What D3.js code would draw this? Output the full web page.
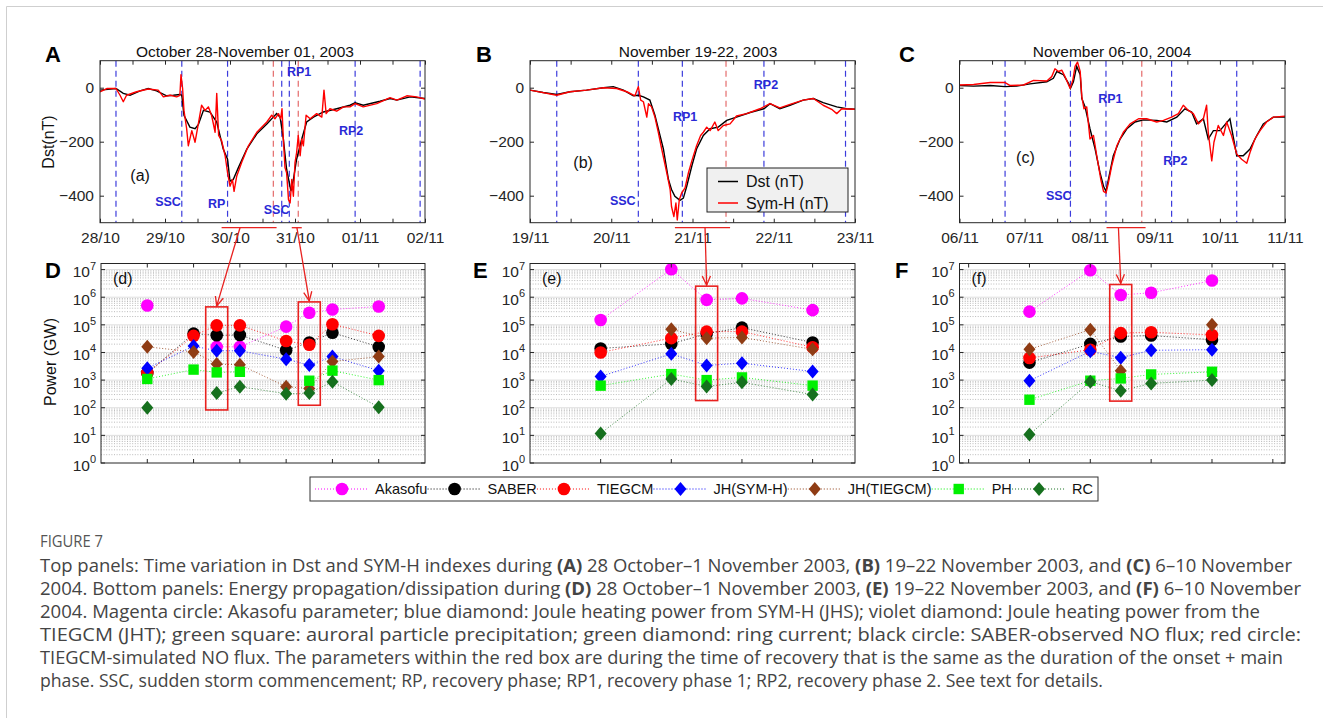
<!DOCTYPE html>
<html>
<head>
<meta charset="utf-8">
<script src="https://cdn.jsdelivr.net/npm/d3@7"></script>
<style>
  body { margin: 0; background: #fff; }
  svg { display: block; }
</style>
</head>
<body>
<svg id="fig" width="1329" height="718"></svg>
<script>
// ---------------------------------------------------------------
// Storm-time Dst / SYM-H series: [hours since first day 00 UT, nT]
// ---------------------------------------------------------------
const dstA = [[0,-9],[5.9,-3],[8.6,-21],[11.1,-28],[14.8,-12],[17.8,-3],[20.9,-12],[24.6,-30],[27.1,-28],[29.5,-25],[30.2,-28],[31.0,-102],[33.2,-146],[35.1,-152],[36.3,-137],[38.2,-84],[40.6,-90],[43.1,-127],[45.5,-227],[47.1,-265],[48.0,-346],[49.2,-340],[51.1,-296],[54.2,-227],[57.9,-171],[61.6,-134],[64.0,-109],[65.2,-96],[66.5,-109],[67.7,-190],[68.9,-302],[70.5,-383],[71.4,-340],[72.6,-265],[74.5,-190],[76.3,-127],[78.8,-109],[82.5,-90],[87.4,-78],[92.3,-65],[94.2,-56],[97.2,-65],[103.4,-50],[107.1,-40],[109.6,-46],[114.5,-34],[120,-40]];
const symA = [[0,-15],[2.5,-3],[5.9,-3],[7.4,-28],[8.6,-52],[9.8,-28],[13.5,-15],[17.8,-5],[21.5,-9],[23.4,-34],[25.9,-28],[28.3,-34],[29.5,-28],[29.9,48],[30.5,-3],[31.0,-84],[32.0,-152],[32.6,-215],[33.9,-159],[35.1,-202],[36.3,-134],[37.5,-65],[38.8,-84],[40.0,-71],[41.2,-102],[42.5,-165],[43.1,-21],[43.8,-177],[44.9,-196],[46.2,-252],[47.1,-315],[48.0,-365],[48.9,-340],[49.5,-384],[50.5,-327],[52.3,-277],[54.8,-215],[57.9,-165],[61.6,-127],[63.4,-102],[64.6,-115],[65.9,-96],[66.7,-115],[67.2,-78],[67.7,-190],[68.3,-296],[68.9,-315],[69.6,-415],[70.2,-427],[70.8,-340],[71.4,-402],[72.0,-277],[72.6,-240],[73.2,-177],[73.9,-252],[74.5,-190],[75.1,-215],[76.1,-102],[77.6,-115],[80.0,-96],[81.9,-109],[82.7,-9],[83.5,-96],[84.9,-78],[87.4,-87],[89.9,-71],[92.3,-71],[94.2,-59],[97.2,-71],[102.2,-59],[107.1,-37],[109.6,-46],[113.3,-30],[116.9,-34],[120,-42]];

const dstB = [[0,-9],[3.9,-18],[7.9,-25],[11.8,-15],[16.7,-9],[21.7,0],[24.6,4],[27.6,-9],[30.5,-30],[32.0,-28],[33.5,-34],[35.4,-46],[36.9,-102],[37.9,-152],[39.4,-227],[40.9,-340],[41.8,-377],[42.8,-402],[44.3,-417],[45.3,-409],[46.3,-365],[47.8,-290],[49.2,-227],[51.2,-177],[53.2,-152],[55.6,-146],[58.1,-121],[61.0,-109],[65.0,-92],[69.1,-78],[70.9,-59],[73.8,-78],[76.8,-65],[80.7,-46],[83.7,-40],[86.6,-55],[90.6,-71],[93.5,-78],[96,-80]];
const symB = [[0,-9],[7.9,-28],[11.8,-15],[16.7,-9],[21.7,0],[25.6,-3],[28.6,-15],[31.0,-30],[32.0,4],[32.7,-46],[33.5,-52],[34.5,-109],[35.0,-59],[35.9,-71],[36.9,-109],[37.9,-165],[38.9,-227],[40.4,-315],[41.4,-377],[41.8,-440],[42.5,-477],[43.1,-427],[43.5,-490],[44.1,-415],[44.8,-390],[45.8,-371],[46.8,-315],[47.8,-271],[49.2,-215],[50.4,-177],[51.2,-165],[52.2,-146],[53.2,-159],[54.6,-127],[55.6,-159],[57.1,-140],[59.1,-134],[61.0,-105],[64.0,-96],[67.9,-78],[70.9,-59],[73.8,-75],[76.8,-62],[80.7,-46],[83.7,-40],[86.6,-65],[89.1,-80],[90.6,-96],[92.1,-78],[96,-80]];

const dstC = [[0,8],[5.2,6],[11.3,8],[16.8,4],[21.1,6],[26.0,14],[32.2,22],[34.6,35],[35.9,60],[38.3,48],[40.2,16],[40.9,-3],[42.0,22],[43.2,79],[44.5,48],[45.1,-40],[46.3,-71],[48.1,-152],[50.0,-227],[51.8,-315],[53.1,-365],[54.0,-384],[54.9,-340],[56.7,-252],[59.2,-190],[61.7,-152],[64.7,-127],[67.8,-119],[72.7,-121],[76.4,-127],[80.1,-109],[83.1,-78],[85.6,-90],[87.4,-134],[89.9,-115],[91.7,-190],[93.6,-159],[96.0,-159],[99.7,-115],[102.2,-252],[104.6,-252],[107.1,-227],[109.6,-177],[112.0,-134],[115.7,-109],[120,-109]];
const symC = [[0,10],[5.2,12],[11.3,19],[16.8,19],[18.7,8],[23.6,10],[27.3,27],[32.2,25],[34.0,41],[35.2,70],[36.5,60],[37.7,65],[38.9,41],[40.8,-3],[41.8,29],[42.6,79],[43.5,95],[44.5,60],[45.1,-34],[45.9,-78],[46.9,-71],[48.1,-190],[49.4,-177],[50.6,-252],[52.1,-340],[53.1,-384],[54.0,-390],[54.9,-352],[56.1,-290],[58.0,-215],[60.4,-165],[62.9,-134],[66.0,-115],[69.0,-115],[72.7,-127],[75.2,-121],[78.2,-109],[80.7,-96],[82.5,-65],[84.4,-84],[86.2,-96],[88.1,-134],[89.9,-115],[91.1,-65],[91.7,-165],[93.0,-271],[93.8,-202],[95.4,-140],[97.3,-177],[98.5,-127],[100.3,-177],[102.2,-246],[104.0,-265],[105.9,-280],[107.1,-240],[108.9,-190],[110.8,-159],[113.2,-127],[115.7,-109],[120,-106]];

// Phase markers (hours): blue = SSC / RP boundaries, red = end of recovery window
const blueA = [5.9, 30.2, 47.1, 67.1, 69.9, 94.2, 118.2];
const redA  = [64.0, 73.2];
const blueB = [7.9, 32.0, 45.0, 69.1, 93.2];
const redB  = [57.9];
const blueC = [16.8, 40.9, 54.0, 78.2, 102.2];
const redC  = [67.2];

// Day tick labels
const daysA = ['28/10','29/10','30/10','31/10','01/11','02/11'];
const daysB = ['19/11','20/11','21/11','22/11','23/11'];
const daysC = ['06/11','07/11','08/11','09/11','10/11','11/11'];

// ---------------------------------------------------------------
// Energy budget (GW) per storm stage; null = not available
// ---------------------------------------------------------------
const stagesD = [1, 2, 2.5, 3, 4, 4.5, 5, 6];
const akasofuD = [5.0e5, null, 1.6e4, 1.6e4, 8.6e4, 2.75e5, 3.6e5, 4.6e5];
const saberD   = [1.8e3, 4.8e4, 4.2e4, 4.3e4, 1.2e4, 2.3e4, 5.2e4, 1.6e4];
const tiegcmD  = [1.8e3, 4.0e4, 9.6e4, 9.6e4, 2.6e4, 1.9e4, 1.05e5, 4.0e4];
const jhSymD   = [2.7e3, 1.7e4, 1.15e4, 1.15e4, 5.7e3, 3.5e3, 7.1e3, 2.2e3];
const jhTieD   = [1.6e4, 1.05e4, 3.8e3, 3.6e3, 580, 500, 4.7e3, 7.1e3];
const phD      = [1.1e3, 2.4e3, 1.9e3, 2.0e3, null, 950, 2.2e3, 1.0e3];
const rcD      = [100, null, 340, 580, 320, 340, 870, 105];

const stagesE = [1, 2, 2.5, 3, 4];
const akasofuE = [1.5e5, 1.03e7, 8.0e5, 9.1e5, 3.4e5];
const saberE   = [1.4e4, 2.05e4, 4.8e4, 7.9e4, 2.3e4];
const tiegcmE  = [1.0e4, 3.3e4, 5.7e4, 5.7e4, 1.55e4];
const jhSymE   = [1.36e3, 8.9e3, 3.4e3, 4.1e3, 2.05e3];
const jhTieE   = [null, 6.9e4, 3.3e4, 3.5e4, 1.3e4];
const phE      = [630, 1.65e3, 1.0e3, 1.25e3, 630];
const rcE      = [11.7, 1.1e3, 590, 830, 300];

const stagesF = [1, 2, 2.5, 3, 4];
const akasofuF = [3.0e5, 9.5e6, 1.2e6, 1.45e6, 4.0e6];
const saberF   = [4.3e3, 2.05e4, 3.8e4, 4.1e4, 2.9e4];
const tiegcmF  = [6.3e3, 1.26e4, 5.0e4, 5.4e4, 4.3e4];
const jhSymF   = [950, 1.1e4, 6.5e3, 1.2e4, 1.26e4];
const jhTieF   = [1.3e4, 6.7e4, 2.2e3, null, 1.0e5];
const phF      = [195, 950, 1.15e3, 1.6e3, 2.0e3];
const rcF      = [10.7, 880, 410, 760, 1.0e3];

const seriesNames = ['Akasofu', 'SABER', 'TIEGCM', 'JH(SYM-H)', 'JH(TIEGCM)', 'PH', 'RC'];
const decadeTicks = [0, 1, 2, 3, 4, 5, 6, 7];

// ---------------------------------------------------------------
// Styling
// ---------------------------------------------------------------
const FONT = '"Liberation Sans", Arial, Helvetica, sans-serif';
const AX = '#262626';
const seriesStyle = [
  { color: '#ff00ff', shape: 'circle' },
  { color: '#000000', shape: 'circle' },
  { color: '#ff0000', shape: 'circle' },
  { color: '#0000ff', shape: 'diamond' },
  { color: '#8f3c14', shape: 'diamond' },
  { color: '#00f000', shape: 'square' },
  { color: '#16701e', shape: 'diamond' }
];

const svg = d3.select('#fig');
svg.append('rect').attr('width', 1329).attr('height', 718).attr('fill', '#fff');

// outer figure frame
svg.append('path').attr('d', 'M6.5,718 V6.5 H1323')
  .attr('fill', 'none').attr('stroke', '#cfcfcf').attr('stroke-width', 1);

const TOP_Y0 = 60.7, TOP_Y1 = 222.7;
const BOT_Y0 = 263.5, BOT_Y1 = 463;

function marker(sel, shape, color) {
  if (shape === 'circle') {
    sel.append('circle').attr('r', 6.3).attr('fill', color);
  } else if (shape === 'square') {
    sel.append('rect').attr('x', -5.2).attr('y', -5.2).attr('width', 10.4).attr('height', 10.4).attr('fill', color);
  } else {
    sel.append('path').attr('d', 'M0,-7 L6,0 L0,7 L-6,0 Z').attr('fill', color);
  }
}

// ---------------------------------------------------------------
// Top row: Dst and SYM-H
// ---------------------------------------------------------------
const topPanels = [
  { key: 'a', letter: 'A', letterX: 45, title: 'October 28-November 01, 2003', titleX: 245,
    x0: 100, x1: 425, days: daysA, dst: dstA, sym: symA, blue: blueA, red: redA,
    tag: [14.8, -325],
    notes: [['SSC', 25.1, -423], ['RP', 43.1, -431], ['SSC', 65.2, -450], ['RP1', 73.5, 61], ['RP2', 92.7, -158]] },
  { key: 'b', letter: 'B', letterX: 476, title: 'November 19-22, 2003', titleX: 698,
    x0: 530, x1: 855, days: daysB, dst: dstB, sym: symB, blue: blueB, red: redB,
    tag: [15.7, -276], legend: true,
    notes: [['SSC', 27.4, -419], ['RP1', 45.8, -108], ['RP2', 69.7, 10]] },
  { key: 'c', letter: 'C', letterX: 899, title: 'November 06-10, 2004', titleX: 1112,
    x0: 959.5, x1: 1285, days: daysC, dst: dstC, sym: symC, blue: blueC, red: redC,
    tag: [24.3, -257],
    notes: [['SSC', 36.6, -400], ['RP1', 55.6, -40], ['RP2', 79.6, -270]] }
];

const topScales = {};

topPanels.forEach(p => {
  const nHours = (p.days.length - 1) * 24;
  const x = d3.scaleLinear().domain([0, nHours]).range([p.x0, p.x1]);
  const y = d3.scaleLinear().domain([-500, 100]).range([TOP_Y1, TOP_Y0]);
  topScales[p.key] = x;
  const g = svg.append('g');

  const clipId = 'clip-' + p.key;
  svg.append('clipPath').attr('id', clipId).append('rect')
    .attr('x', p.x0).attr('y', TOP_Y0).attr('width', p.x1 - p.x0).attr('height', TOP_Y1 - TOP_Y0);

  const inner = g.append('g').attr('clip-path', `url(#${clipId})`);

  // phase boundaries
  inner.selectAll('line.blue').data(p.blue).join('line')
    .attr('x1', d => x(d)).attr('x2', d => x(d)).attr('y1', TOP_Y0).attr('y2', TOP_Y1)
    .attr('stroke', '#3c3cdc').attr('stroke-width', 1.2).attr('stroke-dasharray', '6,4');
  inner.selectAll('line.red').data(p.red).join('line')
    .attr('x1', d => x(d)).attr('x2', d => x(d)).attr('y1', TOP_Y0).attr('y2', TOP_Y1)
    .attr('stroke', '#e46a6a').attr('stroke-width', 1.2).attr('stroke-dasharray', '6,4');

  const line = d3.line().x(d => x(d[0])).y(d => y(d[1]));
  inner.append('path').datum(p.dst).attr('d', line)
    .attr('fill', 'none').attr('stroke', '#000').attr('stroke-width', 1.4);
  inner.append('path').datum(p.sym).attr('d', line)
    .attr('fill', 'none').attr('stroke', '#ff0000').attr('stroke-width', 1.4).attr('stroke-linejoin', 'round');

  // axes
  const ticks12 = d3.range(0, nHours + 1, 12);
  const xAxis = d3.axisBottom(x).tickValues(ticks12)
    .tickFormat(h => h % 24 === 0 ? p.days[h / 24] : '')
    .tickSizeInner(-4).tickSizeOuter(0).tickPadding(9);
  const gx = g.append('g').attr('transform', `translate(0,${TOP_Y1})`).call(xAxis);
  const gxTop = g.append('g').attr('transform', `translate(0,${TOP_Y0})`)
    .call(d3.axisTop(x).tickValues(ticks12).tickFormat('').tickSizeInner(-4).tickSizeOuter(0));
  const yAxis = d3.axisLeft(y).tickValues([-400, -200, 0]).tickSizeInner(-4).tickSizeOuter(0).tickPadding(6);
  const gy = g.append('g').attr('transform', `translate(${p.x0},0)`).call(yAxis);
  const gyR = g.append('g').attr('transform', `translate(${p.x1},0)`)
    .call(d3.axisRight(y).tickValues([-400, -200, 0]).tickFormat('').tickSizeInner(-4).tickSizeOuter(0));
  [gx, gxTop, gy, gyR].forEach(a => {
    a.select('.domain').remove();
    a.selectAll('line').attr('stroke', AX);
    a.selectAll('text').attr('fill', AX).style('font-family', FONT).style('font-size', '15.5px');
  });
  g.append('rect').attr('x', p.x0).attr('y', TOP_Y0).attr('width', p.x1 - p.x0).attr('height', TOP_Y1 - TOP_Y0)
    .attr('fill', 'none').attr('stroke', AX).attr('stroke-width', 1);

  // titles and annotations
  g.append('text').attr('x', p.titleX).attr('y', 57).attr('text-anchor', 'middle')
    .style('font-family', FONT).style('font-size', '15.5px').attr('fill', '#111').text(p.title);
  g.append('text').attr('x', p.letterX).attr('y', 62)
    .style('font-family', FONT).style('font-size', '22px').style('font-weight', 'bold').attr('fill', '#000').text(p.letter);
  g.append('text').attr('x', x(p.tag[0])).attr('y', y(p.tag[1])).attr('dy', '0.35em').attr('text-anchor', 'middle')
    .style('font-family', FONT).style('font-size', '16px').attr('fill', '#111').text('(' + p.key + ')');
  p.notes.forEach(n => {
    g.append('text').attr('x', x(n[1])).attr('y', y(n[2])).attr('dy', '0.35em').attr('text-anchor', 'middle')
      .style('font-family', FONT).style('font-size', '12.5px').style('font-weight', 'bold')
      .attr('fill', '#2a2ad6').text(n[0]);
  });

  if (p.legend) {
    const lw = 141, lh = 44;
    const lx = p.x1 - 7 - lw, ly = 168;
    const lg = g.append('g');
    lg.append('rect').attr('x', lx).attr('y', ly).attr('width', lw).attr('height', lh)
      .attr('fill', '#f0f0f0').attr('stroke', '#222').attr('stroke-width', 1);
    [['Dst (nT)', '#000'], ['Sym-H (nT)', '#ff0000']].forEach((it, i) => {
      const yy = ly + 13.5 + i * 21.5;
      lg.append('line').attr('x1', lx + 11).attr('x2', lx + 31).attr('y1', yy).attr('y2', yy)
        .attr('stroke', it[1]).attr('stroke-width', 1.5);
      lg.append('text').attr('x', lx + 39).attr('y', yy).attr('dy', '0.35em')
        .style('font-family', FONT).style('font-size', '16px').attr('fill', '#111').text(it[0]);
    });
  }
});

// y label of the top row
svg.append('text').attr('transform', 'translate(54,142) rotate(-90)').attr('text-anchor', 'middle')
  .style('font-family', FONT).style('font-size', '16px').attr('fill', '#111').text('Dst(nT)');

// ---------------------------------------------------------------
// Bottom row: energy propagation / dissipation
// ---------------------------------------------------------------
const botPanels = [
  { key: 'd', letter: 'D', letterX: 45, x0: 101, x1: 425, xDomain: [0, 7], xTicks: [1, 2, 3, 4, 5, 6],
    stages: stagesD, values: [akasofuD, saberD, tiegcmD, jhSymD, jhTieD, phD, rcD],
    boxes: [[2.5, 1.92, 5.65], [4.5, 2.09, 5.83]] },
  { key: 'e', letter: 'E', letterX: 473, x0: 530, x1: 855, xDomain: [0, 4.6], xTicks: [1, 2, 3, 4],
    stages: stagesE, values: [akasofuE, saberE, tiegcmE, jhSymE, jhTieE, phE, rcE],
    boxes: [[2.5, 2.26, 6.40]] },
  { key: 'f', letter: 'F', letterX: 895, x0: 959.5, x1: 1285, xDomain: [-0.15, 5.2], xTicks: [0, 1, 2, 3, 4, 5],
    stages: stagesF, values: [akasofuF, saberF, tiegcmF, jhSymF, jhTieF, phF, rcF],
    boxes: [[2.5, 2.24, 6.46]] }
];

const botY = d3.scaleLog().domain([1, Math.pow(10, 7.22)]).range([BOT_Y1, BOT_Y0]);
const botScales = {};

botPanels.forEach(p => {
  const x = d3.scaleLinear().domain(p.xDomain).range([p.x0, p.x1]);
  botScales[p.key] = x;
  const y = botY;
  const g = svg.append('g');

  // log grid: dotted minor lines, light major lines
  const top = y.domain()[1];
  decadeTicks.forEach(k => {
    for (let m = 2; m <= 9; m++) {
      const v = m * Math.pow(10, k);
      if (v >= top) continue;
      g.append('line').attr('x1', p.x0).attr('x2', p.x1).attr('y1', y(v)).attr('y2', y(v))
        .attr('stroke', '#a9a9a9').attr('stroke-width', 0.8).attr('stroke-dasharray', '1,1.6');
    }
    if (k > 0) {
      g.append('line').attr('x1', p.x0).attr('x2', p.x1).attr('y1', y(Math.pow(10, k))).attr('y2', y(Math.pow(10, k)))
        .attr('stroke', '#d6d6d6').attr('stroke-width', 0.8);
    }
  });

  // dotted connectors then markers, in legend order
  p.values.forEach((vals, si) => {
    const st = seriesStyle[si];
    const pts = p.stages.map((s, i) => [s, vals[i]]);
    const line = d3.line().defined(d => d[1] != null).x(d => x(d[0])).y(d => y(d[1]));
    g.append('path').datum(pts).attr('d', line).attr('fill', 'none')
      .attr('stroke', st.color).attr('stroke-width', 1).attr('stroke-dasharray', '1,2').attr('opacity', 0.8);
  });
  p.values.forEach((vals, si) => {
    const st = seriesStyle[si];
    p.stages.forEach((s, i) => {
      if (vals[i] == null) return;
      const mg = g.append('g').attr('transform', `translate(${x(s)},${y(vals[i])})`);
      marker(mg, st.shape, st.color);
    });
  });

  // recovery-window boxes
  p.boxes.forEach(b => {
    const cx = x(b[0]);
    g.append('rect').attr('x', cx - 11).attr('y', y(Math.pow(10, b[2])))
      .attr('width', 22).attr('height', y(Math.pow(10, b[1])) - y(Math.pow(10, b[2])))
      .attr('fill', 'none').attr('stroke', '#e8211f').attr('stroke-width', 1.6);
  });

  // frame and ticks
  g.append('rect').attr('x', p.x0).attr('y', BOT_Y0).attr('width', p.x1 - p.x0).attr('height', BOT_Y1 - BOT_Y0)
    .attr('fill', 'none').attr('stroke', AX).attr('stroke-width', 1);
  p.xTicks.forEach(t => {
    g.append('line').attr('x1', x(t)).attr('x2', x(t)).attr('y1', BOT_Y1).attr('y2', BOT_Y1 - 4).attr('stroke', AX);
    g.append('line').attr('x1', x(t)).attr('x2', x(t)).attr('y1', BOT_Y0).attr('y2', BOT_Y0 + 4).attr('stroke', AX);
  });
  decadeTicks.forEach(k => {
    const yy = y(Math.pow(10, k));
    g.append('line').attr('x1', p.x0).attr('x2', p.x0 + 4).attr('y1', yy).attr('y2', yy).attr('stroke', AX);
    g.append('line').attr('x1', p.x1).attr('x2', p.x1 - 4).attr('y1', yy).attr('y2', yy).attr('stroke', AX);
    const t = g.append('text').attr('x', p.x0 - 5).attr('y', yy + 7.5).attr('text-anchor', 'end')
      .style('font-family', FONT).style('font-size', '15.5px').attr('fill', AX);
    t.append('tspan').text('10');
    t.append('tspan').attr('dy', -7.5).style('font-size', '11px').text(k);
  });

  g.append('text').attr('x', p.x0 + 12).attr('y', BOT_Y0 + 20)
    .style('font-family', FONT).style('font-size', '16px').attr('fill', '#111').text('(' + p.key + ')');
  g.append('text').attr('x', p.letterX).attr('y', 278)
    .style('font-family', FONT).style('font-size', '22px').style('font-weight', 'bold').attr('fill', '#000').text(p.letter);
});

svg.append('text').attr('transform', 'translate(56,362) rotate(-90)').attr('text-anchor', 'middle')
  .style('font-family', FONT).style('font-size', '16px').attr('fill', '#111').text('Power (GW)');

// ---------------------------------------------------------------
// Links: recovery window in the Dst panel -> boxed stage below
// ---------------------------------------------------------------
const links = [
  { top: 'a', bot: 'd', bracket: [44.9, 65.2], from: 51.7, box: 0 },
  { top: 'a', bot: 'd', bracket: [70.8, 74.5], from: 72.7, box: 1 },
  { top: 'b', bot: 'e', bracket: [42.8, 59.1], from: 51.7, box: 0 },
  { top: 'c', bot: 'f', bracket: [54.2, 68.6], from: 58.6, box: 0 }
];
const linkG = svg.append('g').attr('stroke', '#e8211f').attr('fill', 'none').attr('stroke-width', 1.3);
links.forEach(l => {
  const xt = topScales[l.top];
  const xb = botScales[l.bot];
  const bp = botPanels.find(b => b.key === l.bot);
  const b = bp.boxes[l.box];
  const yb = TOP_Y1 + 5;
  linkG.append('line').attr('x1', xt(l.bracket[0])).attr('x2', xt(l.bracket[1])).attr('y1', yb).attr('y2', yb);
  const sx = xt(l.from), sy = yb;
  const ex = xb(b[0]), ey = botY(Math.pow(10, b[2])) - 1;
  linkG.append('line').attr('x1', sx).attr('y1', sy).attr('x2', ex).attr('y2', ey);
  const ang = Math.atan2(ey - sy, ex - sx);
  const hl = 10, spread = 0.42;
  linkG.append('path').attr('d',
    `M${ex - hl * Math.cos(ang - spread)},${ey - hl * Math.sin(ang - spread)} L${ex},${ey} L${ex - hl * Math.cos(ang + spread)},${ey - hl * Math.sin(ang + spread)}`);
});

// ---------------------------------------------------------------
// Shared legend
// ---------------------------------------------------------------
(function legend() {
  const bx = 310, by = 477, bw = 788, bh = 24;
  const lg = svg.append('g');
  lg.append('rect').attr('x', bx).attr('y', by).attr('width', bw).attr('height', bh)
    .attr('fill', '#fff').attr('stroke', '#333').attr('stroke-width', 1);
  const cy = by + bh / 2;
  const sample = 54, gapText = 6;
  const texts = seriesNames.map(n => lg.append('text').attr('y', cy).attr('dy', '0.35em')
    .style('font-family', FONT).style('font-size', '14.5px').attr('fill', '#111').text(n));
  const widths = texts.map(t => t.node().getComputedTextLength());
  const used = d3.sum(widths) + seriesNames.length * (sample + gapText);
  const gap = (bw - 10 - used) / (seriesNames.length - 1);
  let cx = bx + 5;
  seriesNames.forEach((n, i) => {
    const st = seriesStyle[i];
    lg.append('line').attr('x1', cx).attr('x2', cx + sample).attr('y1', cy).attr('y2', cy)
      .attr('stroke', st.color).attr('stroke-width', 1).attr('stroke-dasharray', '1,2');
    marker(lg.append('g').attr('transform', `translate(${cx + sample / 2},${cy})`), st.shape, st.color);
    texts[i].attr('x', cx + sample + gapText);
    cx += sample + gapText + widths[i] + gap;
  });
})();

// ---------------------------------------------------------------
// Caption
// ---------------------------------------------------------------
const CAP_FONT = '"Open Sans", "Noto Sans", sans-serif';
svg.append('text').attr('x', 40).attr('y', 547).attr('textLength', 63).attr('lengthAdjust', 'spacingAndGlyphs')
  .style('font-family', CAP_FONT).style('font-size', '16px').attr('fill', '#555').text('FIGURE 7');

const captionLines = [
  [['Top panels: Time variation in Dst and SYM-H indexes during '], ['(A)', 1], [' 28 October\u20131 November 2003, '], ['(B)', 1], [' 19\u201322 November 2003, and '], ['(C)', 1], [' 6\u201310 November']],
  [['2004. Bottom panels: Energy propagation/dissipation during '], ['(D)', 1], [' 28 October\u20131 November 2003, '], ['(E)', 1], [' 19\u201322 November 2003, and '], ['(F)', 1], [' 6\u201310 November']],
  [['2004. Magenta circle: Akasofu parameter; blue diamond: Joule heating power from SYM-H (JHS); violet diamond: Joule heating power from the']],
  [['TIEGCM (JHT); green square: auroral particle precipitation; green diamond: ring current; black circle: SABER-observed NO flux; red circle:']],
  [['TIEGCM-simulated NO flux. The parameters within the red box are during the time of recovery that is the same as the duration of the onset + main']],
  [['phase. SSC, sudden storm commencement; RP, recovery phase; RP1, recovery phase 1; RP2, recovery phase 2. See text for details.']]
];
// right edge reached by each caption line
const captionEnds = [1292, 1301, 1260, 1301, 1283, 1103];
captionLines.forEach((segs, i) => {
  const t = svg.append('text').attr('x', 40).attr('y', 572 + i * 23)
    .style('font-family', CAP_FONT).style('font-size', '18px').attr('fill', '#444');
  segs.forEach(s => {
    t.append('tspan').style('font-weight', s[1] ? 'bold' : 'normal').text(s[0]);
  });
  t.attr('textLength', captionEnds[i] - 40).attr('lengthAdjust', 'spacingAndGlyphs');
});
</script>
</body>
</html>
